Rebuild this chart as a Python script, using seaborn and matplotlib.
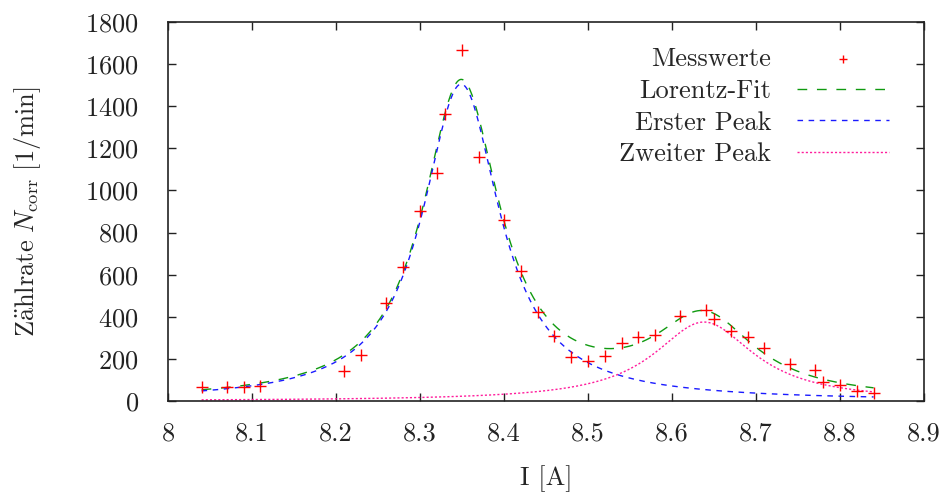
import numpy as np
import pandas as pd
import matplotlib
matplotlib.use("Agg")
import matplotlib.pyplot as plt
import seaborn as sns

# Measured data
current = [8.04, 8.07, 8.09, 8.11, 8.21, 8.23, 8.26, 8.28, 8.30, 8.32, 8.33, 8.35,
           8.37, 8.40, 8.42, 8.44, 8.46, 8.48, 8.50, 8.52, 8.54, 8.56, 8.58, 8.61,
           8.64, 8.65, 8.67, 8.69, 8.71, 8.74, 8.77, 8.78, 8.80, 8.82, 8.84]
rate = [65, 65, 65, 71, 144, 220, 464, 635, 901, 1084, 1363, 1665,
        1157, 860, 617, 424, 310, 207, 190, 215, 277, 302, 313, 404,
        432, 389, 334, 305, 253, 176, 147, 89, 74, 49, 39]

# Lorentz fit parameters: amplitude, centre, half width
peak1 = dict(A=1505.0, x0=8.349, g=0.056)
peak2 = dict(A=375.0, x0=8.638, g=0.073)
fit_range = (8.04, 8.84)

xticks = [8.0, 8.1, 8.2, 8.3, 8.4, 8.5, 8.6, 8.7, 8.8, 8.9]
xticklabels = ["8", "8.1", "8.2", "8.3", "8.4", "8.5", "8.6", "8.7", "8.8", "8.9"]
yticks = [0, 200, 400, 600, 800, 1000, 1200, 1400, 1600, 1800]


def lorentz(x, A, x0, g):
    return A / (1.0 + ((x - x0) / g) ** 2)


sns.set_theme(style="ticks")
plt.rcParams["font.family"] = ["cmr10", "DejaVu Serif"]
plt.rcParams["mathtext.fontset"] = "cm"
plt.rcParams["axes.formatter.use_mathtext"] = True

FS = 19

fig = plt.figure(figsize=(9.44, 4.96), dpi=100)
ax = fig.add_axes([168 / 944, 1 - 401 / 496, (924 - 168) / 944, (401 - 22) / 496])

xf = np.linspace(fit_range[0], fit_range[1], 600)
y1 = lorentz(xf, **peak1)
y2 = lorentz(xf, **peak2)
curves = pd.DataFrame({"I": xf, "fit": y1 + y2, "p1": y1, "p2": y2})
meas = pd.DataFrame({"I": current, "N": rate})

sns.scatterplot(data=meas, x="I", y="N", marker="+", s=75, color="#ff0000",
                linewidth=1.0, ax=ax, label="Messwerte", zorder=5)
sns.lineplot(data=curves, x="I", y="fit", color="#109a10", lw=1.0,
             ax=ax, label="Lorentz-Fit").lines[-1].set_dashes([7, 7])
sns.lineplot(data=curves, x="I", y="p1", color="#1a1aff", lw=1.0,
             ax=ax, label="Erster Peak").lines[-1].set_dashes([4, 4])
sns.lineplot(data=curves, x="I", y="p2", color="#ff1c9c", lw=1.0,
             ax=ax, label="Zweiter Peak").lines[-1].set_dashes([1.5, 1.5])

ax.set_xlim(8.0, 8.9)
ax.set_ylim(0, 1800)
ax.set_xticks(xticks)
ax.set_xticklabels(xticklabels)
ax.set_yticks(yticks)
ax.tick_params(direction="in", length=6, width=1, top=True, right=True,
               labelsize=FS, colors="#222222")
ax.tick_params(axis="y", pad=21)
ax.tick_params(axis="x", pad=15)
for s in ax.spines.values():
    s.set_linewidth(1.2)
    s.set_color("#222222")

ax.set_xlabel("I [A]", fontsize=FS, labelpad=14)
ax.set_ylabel(r"$\mathrm{Z\ddot{a}hlrate}\ N_{\mathrm{corr}}\ \mathrm{[1/min]}$",
              fontsize=FS, labelpad=30)

leg = ax.legend(loc="upper right", bbox_to_anchor=(0.974, 0.974), frameon=False,
                markerfirst=False, fontsize=FS, handlelength=3.45,
                handletextpad=1.0, labelspacing=0.3, markerscale=0.65,
                borderaxespad=0.2)

fig.savefig("out.png", dpi=100)
